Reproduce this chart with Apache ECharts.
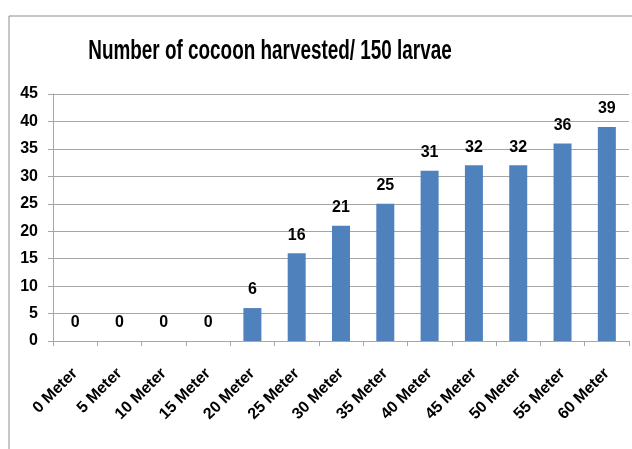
<!DOCTYPE html>
<html>
<head>
<meta charset="utf-8">
<script src="https://cdn.jsdelivr.net/npm/echarts@6/dist/echarts.min.js"></script>
<style>
  html, body { margin: 0; padding: 0; background: #fff; }
  #chart { width: 632px; height: 449px; }
</style>
</head>
<body>
<div id="chart"></div>
<script>
// distances from the source
const categories = ['0 Meter', '5 Meter', '10 Meter', '15 Meter', '20 Meter', '25 Meter', '30 Meter',
    '35 Meter', '40 Meter', '45 Meter', '50 Meter', '55 Meter', '60 Meter']
// cocoons harvested per 150 larvae
const cocoons = [0, 0, 0, 0, 6, 16, 21, 25, 31, 32, 32, 36, 39]

const font = '"Liberation Sans", Arial, sans-serif'

const chart = echarts.init(document.getElementById('chart'))
const option = {
    animation: false,
    backgroundColor: '#fff',
    graphic: [{
        type: 'rect',
        shape: { x: 9, y: 16, width: 700, height: 500 },
        style: { fill: 'none', stroke: '#8c8c8c', lineWidth: 1 },
        silent: true,
        z: -1
    }, {
        // title, squeezed to look like the narrow original font
        type: 'text',
        x: 270,
        y: 52,
        scaleX: 0.7,
        style: {
            text: 'Number of cocoon harvested/ 150 larvae',
            fontFamily: font,
            fontSize: 27,
            fontWeight: 'bold',
            fill: '#000',
            textAlign: 'center',
            textVerticalAlign: 'middle'
        }
    }],
    grid: {
        left: 53,
        right: 3,
        top: 94,
        bottom: 108
    },
    xAxis: {
        type: 'category',
        data: categories,
        axisLine: { lineStyle: { color: '#a6a6a6' } },
        axisTick: { show: true, length: 5, lineStyle: { color: '#a6a6a6' } },
        axisLabel: {
            rotate: 45,
            interval: 0,
            margin: 30,
            fontFamily: font,
            fontSize: 16,
            fontWeight: 'bold',
            color: '#000'
        }
    },
    yAxis: {
        type: 'value',
        min: 0,
        max: 45,
        interval: 5,
        axisLine: { show: true, lineStyle: { color: '#a6a6a6' } },
        axisTick: { show: true, length: 5, lineStyle: { color: '#a6a6a6' } },
        splitLine: { lineStyle: { color: '#a6a6a6' } },
        axisLabel: {
            margin: 15,
            fontFamily: font,
            fontSize: 16,
            fontWeight: 'bold',
            color: '#000'
        }
    },
    series: [{
        type: 'bar',
        data: cocoons,
        barWidth: 18,
        itemStyle: { color: '#4f81bd' },
        label: {
            show: true,
            position: 'top',
            distance: 10,
            fontFamily: font,
            fontSize: 16,
            fontWeight: 'bold',
            color: '#000'
        }
    }]
}
chart.setOption(option)
</script>
</body>
</html>
